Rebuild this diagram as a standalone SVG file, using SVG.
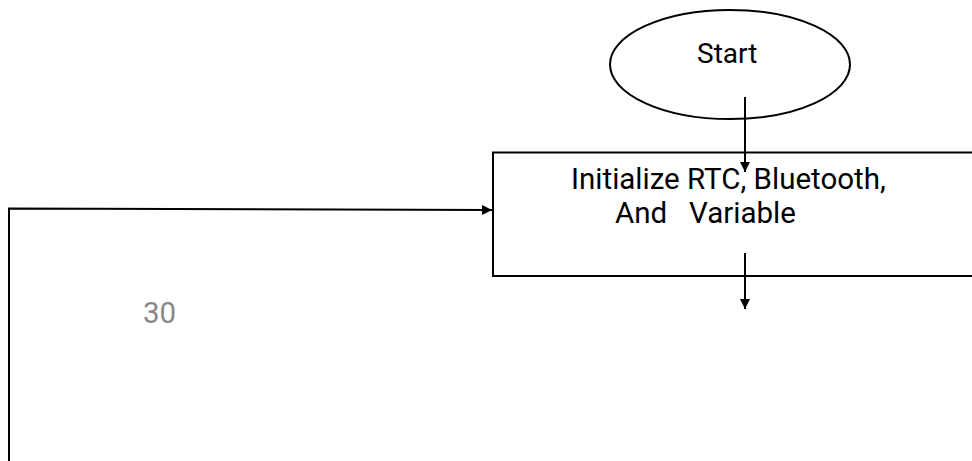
<svg xmlns="http://www.w3.org/2000/svg" width="972" height="461" viewBox="0 0 972 461">
  <defs>
    <marker id="arrow" viewBox="0 0 10 10" refX="10" refY="5" markerWidth="10" markerHeight="10" markerUnits="userSpaceOnUse" orient="auto">
      <path d="M0,0 L10,5 L0,10 Z" fill="#000"/>
    </marker>
    <style>
      .shape { fill: #fff; stroke: #000; stroke-width: 2; }
      .line { fill: none; stroke: #000; stroke-width: 2; }
      .label { font-family: Roboto, "Liberation Sans", sans-serif; font-size: 28px; fill: #000; }
      .boxlabel { font-family: Roboto, "Liberation Sans", sans-serif; font-size: 29.5px; fill: #000; }
      .page { font-family: Roboto, "Liberation Sans", sans-serif; font-size: 29.5px; fill: #888; }
    </style>
  </defs>
  <rect width="972" height="461" fill="#fff"/>
  <g id="start">
    <ellipse class="shape" cx="730" cy="64.5" rx="120" ry="54.5"/>
    <text class="label" x="697" y="63">Start</text>
  </g>
  <g id="init">
    <rect class="shape" x="493" y="152.5" width="490" height="123.5"/>
    <text class="boxlabel" x="571" y="189">Initialize RTC, Bluetooth,</text>
    <text class="boxlabel" x="615" y="223" xml:space="preserve">And   Variable</text>
  </g>
  <g id="connectors">
    <line class="line" x1="745" y1="97" x2="745" y2="172" marker-end="url(#arrow)"/>
    <line class="line" x1="745" y1="253" x2="745" y2="309" marker-end="url(#arrow)"/>
    <polyline class="line" points="9,461 9,208.5 492,210" marker-end="url(#arrow)"/>
  </g>
  <text class="page" x="143" y="323">30</text>
</svg>
